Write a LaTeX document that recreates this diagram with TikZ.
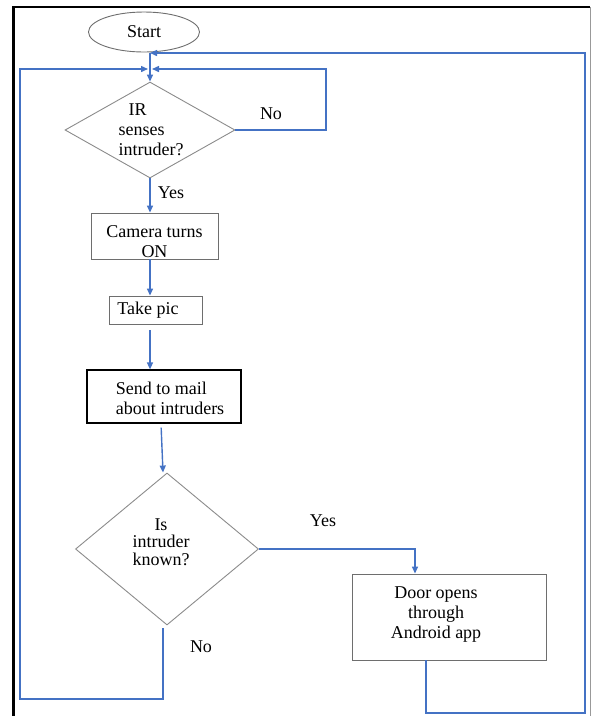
\documentclass[tikz,border=0pt]{standalone}
\usepackage{fontspec}
\setmainfont{Liberation Serif}
\usepackage{xcolor}
\usetikzlibrary{shapes.geometric,arrows.meta}

\definecolor{flowblue}{RGB}{68,114,196}
\definecolor{boxgray}{RGB}{110,110,110}

\begin{document}
\begin{tikzpicture}[x=1pt,y=-1pt,font=\fontsize{18}{20}\selectfont,
  term/.style={ellipse,draw=boxgray,line width=0.9pt,inner sep=0pt},
  proc/.style={rectangle,draw=boxgray,line width=0.9pt,inner sep=0pt},
  decision/.style={diamond,draw=boxgray!80,line width=0.9pt,inner sep=0pt},
  flow/.style={draw=flowblue,line width=1.4pt,-{Triangle[length=7pt,width=6pt]}},
  txt/.style={text=black,inner sep=0pt}]
\useasboundingbox (0,0) rectangle (592,716);
% frame
\draw[line width=2.5pt] (13.5,716) -- (13.5,7) -- (590,7);
\draw[black!40,line width=1pt] (590,7) -- (590,716);

% blocks
\node[term,minimum width=111pt,minimum height=40pt] (start) at (144,32) {Start};
\node[decision,minimum width=170pt,minimum height=96pt,
  label={[txt,align=left,xshift=1pt]center:\hspace*{10pt}IR\\senses\\intruder?}] (ir) at (150,130) {};
\node[proc,minimum width=127pt,minimum height=46pt,
  label={[txt,align=center,yshift=-6pt]center:Camera turns\\ON}] (camera) at (154.5,236) {};
\node[proc,minimum width=93pt,minimum height=28pt,
  label={[txt,xshift=-7.5pt]center:Take pic}] (takepic) at (155.5,310) {};
\node[proc,draw=black,line width=1.2pt,minimum width=154pt,minimum height=53pt,
  label={[txt,align=left,xshift=6pt,yshift=-2pt]center:Send to mail\\about intruders}] (sendmail) at (164,396.5) {};
\node[decision,minimum width=183pt,minimum height=152pt,
  label={[txt,align=center,xshift=-6pt,yshift=7pt,font=\fontsize{18}{17.5}\selectfont]center:Is\\intruder\\known?}] (known) at (167,549) {};
\node[proc,minimum width=194pt,minimum height=86pt,
  label={[txt,align=center,xshift=-13pt,yshift=2pt]center:Door opens\\through\\Android app}] (door) at (449,617) {};

% branch labels
\node[txt] (irnolbl) at (271,114) {No};
\node[txt] (iryeslbl) at (171,193) {Yes};
\node[txt] (knownyeslbl) at (323,521) {Yes};
\node[txt] (knownnolbl) at (201,647) {No};

% connectors
\coordinate (top) at (150,53);
\coordinate (join) at (150,69);
\coordinate (irno) at (326,69);
\coordinate (knownno) at (20,699);
\coordinate (doorret) at (585,713);

\draw[flow] (top) -- (ir.north);
\draw[flow] (ir.south) -- (ir.south |- camera.north);
\draw[flow] (ir.south |- camera.south) -- (ir.south |- takepic.north);
\draw[flow,shorten <=6pt] (ir.south |- takepic.south) -- (ir.south |- sendmail.north);
\draw[flow,shorten <=4pt] ([xshift=-3pt]sendmail.south) -- ([xshift=-4pt]known.north);
\draw[flow] (ir.east) -| (irno) -- ([xshift=2pt]join);
\draw[flow,shorten <=3pt] ([xshift=-4pt]known.south) |- (knownno) |- ([xshift=-2pt]join);
\draw[flow] (known.east) -| ([xshift=-34pt]door.north);
\draw[flow] ([xshift=-23pt]door.south) |- (doorret) |- (top);
\end{tikzpicture}
\end{document}
